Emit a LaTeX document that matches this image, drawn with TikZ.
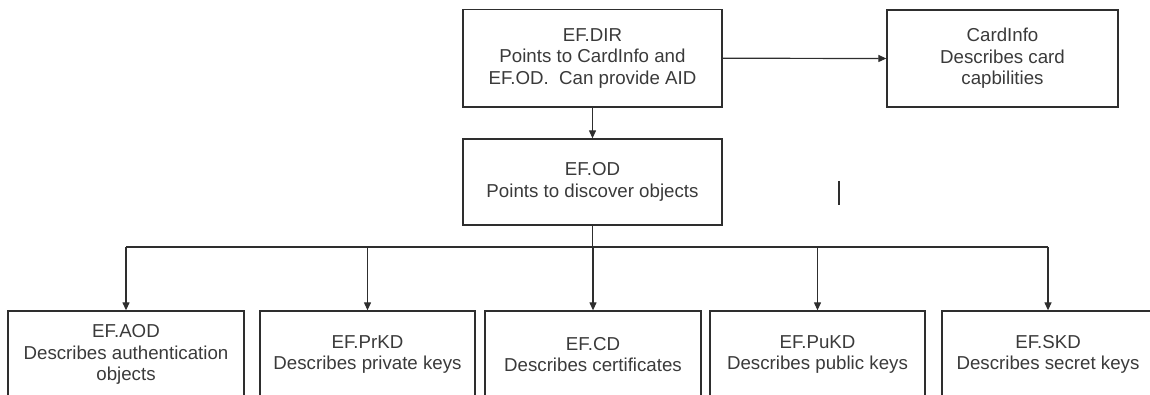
\documentclass[tikz,border=0pt]{standalone}
\usepackage{fontspec}
\setmainfont{Liberation Sans}
\usetikzlibrary{arrows.meta}
\definecolor{ink}{HTML}{2E2E2E}
\definecolor{txt}{HTML}{3A3A3A}
\tikzset{
  box/.style={draw=ink, line width=1.3pt, inner sep=0pt, align=center, text=txt,
    font=\fontsize{18.7}{21.5}\selectfont},
  conn/.style={draw=ink, line width=1.2pt},
  arr/.style={conn, -{Triangle[length=8pt,width=7pt]}}
}
\begin{document}
\begin{tikzpicture}[x=1pt,y=-1pt]
\useasboundingbox (0,0) rectangle (1150,395);
\clip (0,0) rectangle (1150,395);
% top row
\node[box, minimum width=259pt, minimum height=97.5pt] (dir) at (592.5,58.25)
  {EF.DIR\\Points to CardInfo and\\EF.OD.\ \ Can provide AID};
\node[box, minimum width=231pt, minimum height=97pt] (card) at (1002.5,58.5)
  {CardInfo\\Describes card\\capbilities};
\node[box, minimum width=259pt, minimum height=86pt] (od) at (592.5,182)
  {EF.OD\\Points to discover objects};
% bottom row
\node[box, minimum width=236pt, minimum height=87pt] (aod) at (126,354.5)
  {EF.AOD\\Describes authentication\\objects};
\node[box, minimum width=215pt, minimum height=87pt] (prkd) at (367.5,354.5)
  {EF.PrKD\\Describes private keys};
\node[box, minimum width=216pt, minimum height=87pt] (cd) at (593,354.5)
  {EF.CD\\Describes certificates};
\node[box, minimum width=215pt, minimum height=87pt] (pukd) at (817.5,354.5)
  {EF.PuKD\\Describes public keys};
\node[box, minimum width=212pt, minimum height=87pt] (skd) at (1048,354.5)
  {EF.SKD\\Describes secret keys};
% connectors
\draw[arr] (dir.east) -- (card.west);
\draw[arr] (dir.south) -- (od.north);
\coordinate (bus) at (0,247);
\draw[conn] (od.south) -- (od.south |- bus);
\draw[conn] (aod.north |- bus) -- (skd.north |- bus);
\foreach \n in {aod,prkd,cd,pukd,skd}
  \draw[arr] (\n.north |- bus) -- (\n.north);
% stray mark
\coordinate (m1) at (839,181);
\coordinate (m2) at (839,205);
\draw[conn] (m1) -- (m2);
\end{tikzpicture}
\end{document}
